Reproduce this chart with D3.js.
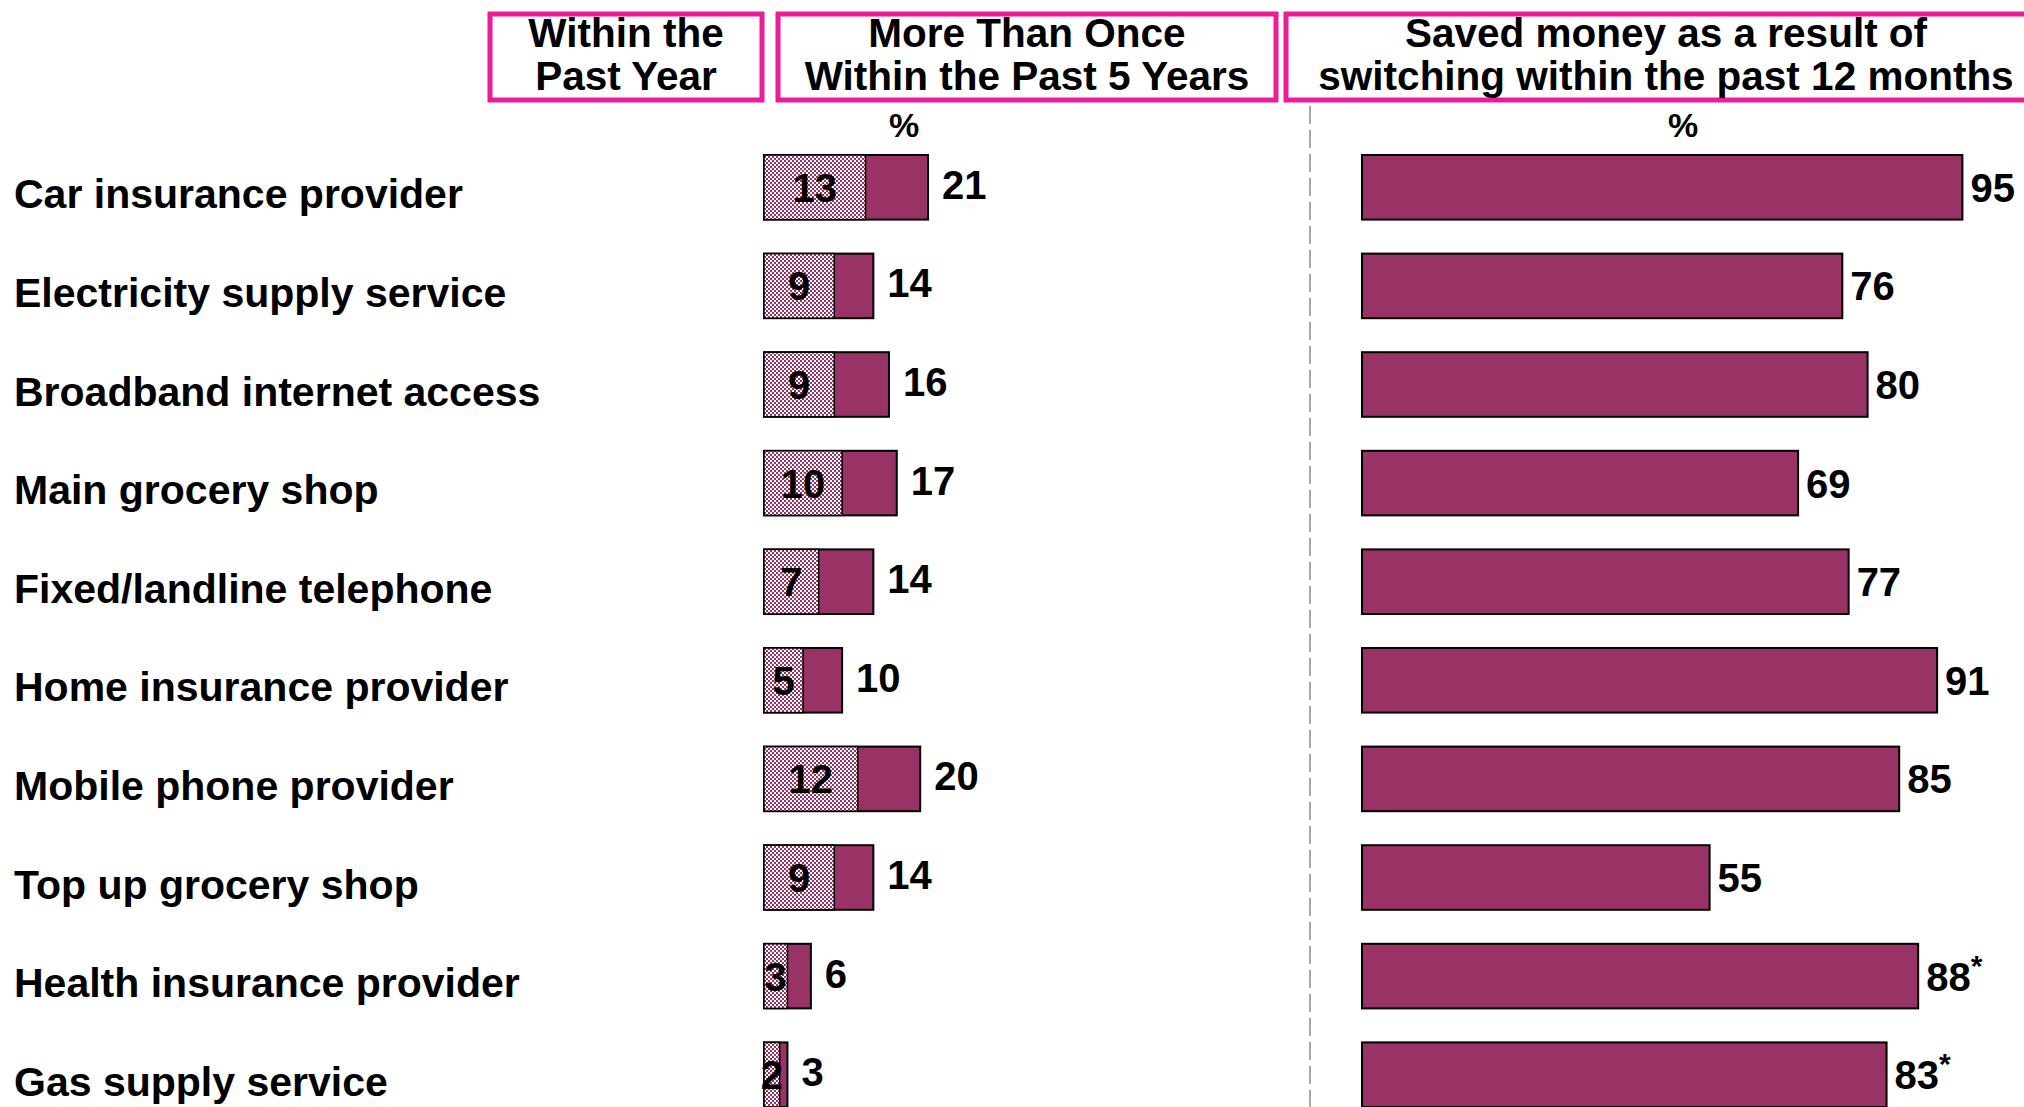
<!DOCTYPE html>
<html>
<head>
<meta charset="utf-8">
<script src="https://cdn.jsdelivr.net/npm/d3@7"></script>
<style>
  body { margin: 0; background: #fff; }
  svg { display: block; }
  text { font-family: "Liberation Sans", Arial, sans-serif; font-weight: bold; fill: #000; }
</style>
</head>
<body>
<div id="container"></div>
<script>
let w = 2024;
let h = 1107;

// data
let categories = [
    "Car insurance provider",
    "Electricity supply service",
    "Broadband internet access",
    "Main grocery shop",
    "Fixed/landline telephone",
    "Home insurance provider",
    "Mobile phone provider",
    "Top up grocery shop",
    "Health insurance provider",
    "Gas supply service"
];
let pastYear = [13, 9, 9, 10, 7, 5, 12, 9, 3, 2];
let pastFiveYears = [21, 14, 16, 17, 14, 10, 20, 14, 6, 3];
let savedMoney = [95, 76, 80, 69, 77, 91, 85, 55, 88, 83];
let lowBase = [false, false, false, false, false, false, false, false, true, true];

let headers = [
    ["Within the", "Past Year"],
    ["More Than Once", "Within the Past 5 Years"],
    ["Saved money as a result of", "switching within the past 12 months"]
];

let maroon = "#993366";
let pink = "#ec1c99";

let viz = d3.select("#container").append("svg")
    .attr("width", w)
    .attr("height", h);

// checkerboard fill for the "past year" part
let pat = viz.append("defs").append("pattern")
    .attr("id", "checker")
    .attr("patternUnits", "userSpaceOnUse")
    .attr("width", 4)
    .attr("height", 4);
pat.append("rect").attr("width", 4).attr("height", 4).attr("fill", "#fff");
pat.append("rect").attr("width", 2).attr("height", 2).attr("fill", maroon);
pat.append("rect").attr("x", 2).attr("y", 2).attr("width", 2).attr("height", 2).attr("fill", maroon);

let y = d3.scaleBand()
    .domain(categories)
    .range([138, 1124])
    .paddingInner(0.345)
    .paddingOuter(0.1725);

let xL = d3.scaleLinear().domain([0, 100]).range([764, 764 + 781]);
let xR = d3.scaleLinear().domain([0, 100]).range([1362, 1362 + 632]);

let rows = categories.map((c, i) => ({
    cat: c, py: pastYear[i], p5: pastFiveYears[i], saved: savedMoney[i], star: lowBase[i]
}));

// header boxes
let boxes = [
    {x: 490, w: 272},
    {x: 778, w: 498},
    {x: 1286, w: 760}
];
let hg = viz.append("g");
boxes.forEach((b, i) => {
    hg.append("rect")
        .attr("x", b.x).attr("y", 14)
        .attr("width", b.w).attr("height", 86)
        .attr("fill", "none")
        .attr("stroke", pink)
        .attr("stroke-width", 5);
    headers[i].forEach((line, j) => {
        hg.append("text")
            .attr("x", b.x + b.w / 2)
            .attr("y", 47 + j * 43)
            .attr("text-anchor", "middle")
            .style("font-size", "40.5px")
            .text(line);
    });
});

// % markers
[904, 1683].forEach(px => {
    viz.append("text")
        .attr("x", px).attr("y", 137)
        .attr("text-anchor", "middle")
        .style("font-size", "34px")
        .text("%");
});

// divider
viz.append("line")
    .attr("x1", 1310).attr("x2", 1310)
    .attr("y1", 106).attr("y2", h)
    .attr("stroke", "#aaa")
    .attr("stroke-width", 2)
    .attr("stroke-dasharray", "18 6");

// category labels
viz.selectAll(".cat").data(rows).enter()
    .append("text")
    .attr("class", "cat")
    .attr("x", 14)
    .attr("y", d => y(d.cat) + y.bandwidth() / 2 + 21)
    .style("font-size", "41px")
    .text(d => d.cat);

// left stacked bars
let lg = viz.append("g");
lg.selectAll(".more").data(rows).enter()
    .append("rect")
    .attr("class", "more")
    .attr("x", xL(0))
    .attr("y", d => y(d.cat))
    .attr("width", d => xL(d.p5) - xL(0))
    .attr("height", y.bandwidth())
    .attr("fill", maroon)
    .attr("stroke", "#000")
    .attr("stroke-width", 2);
lg.selectAll(".year").data(rows).enter()
    .append("rect")
    .attr("class", "year")
    .attr("x", xL(0))
    .attr("y", d => y(d.cat))
    .attr("width", d => xL(d.py) - xL(0))
    .attr("height", y.bandwidth())
    .attr("fill", "url(#checker)")
    .attr("stroke", "#000")
    .attr("stroke-width", 1.5);
lg.selectAll(".ylab").data(rows).enter()
    .append("text")
    .attr("class", "ylab")
    .attr("x", d => (xL(0) + xL(d.py)) / 2)
    .attr("y", d => y(d.cat) + y.bandwidth() / 2)
    .attr("dy", "0.36em")
    .attr("text-anchor", "middle")
    .style("font-size", "40px")
    .text(d => d.py);
lg.selectAll(".tlab").data(rows).enter()
    .append("text")
    .attr("class", "tlab")
    .attr("x", d => xL(d.p5) + 14)
    .attr("y", d => y(d.cat) + y.bandwidth() / 2 - 3)
    .attr("dy", "0.36em")
    .style("font-size", "40px")
    .text(d => d.p5);

// right bars
let rg = viz.append("g");
rg.selectAll(".saved").data(rows).enter()
    .append("rect")
    .attr("class", "saved")
    .attr("x", xR(0))
    .attr("y", d => y(d.cat))
    .attr("width", d => xR(d.saved) - xR(0))
    .attr("height", y.bandwidth())
    .attr("fill", maroon)
    .attr("stroke", "#000")
    .attr("stroke-width", 2);
let sl = rg.selectAll(".slab").data(rows).enter()
    .append("text")
    .attr("class", "slab")
    .attr("x", d => xR(d.saved) + 8)
    .attr("y", d => y(d.cat) + y.bandwidth() / 2)
    .attr("dy", "0.36em")
    .style("font-size", "40px");
sl.append("tspan").text(d => d.saved);
sl.filter(d => d.star).append("tspan")
    .attr("dy", "-0.5em")
    .style("font-size", "30px")
    .text("*");
</script>
</body>
</html>
